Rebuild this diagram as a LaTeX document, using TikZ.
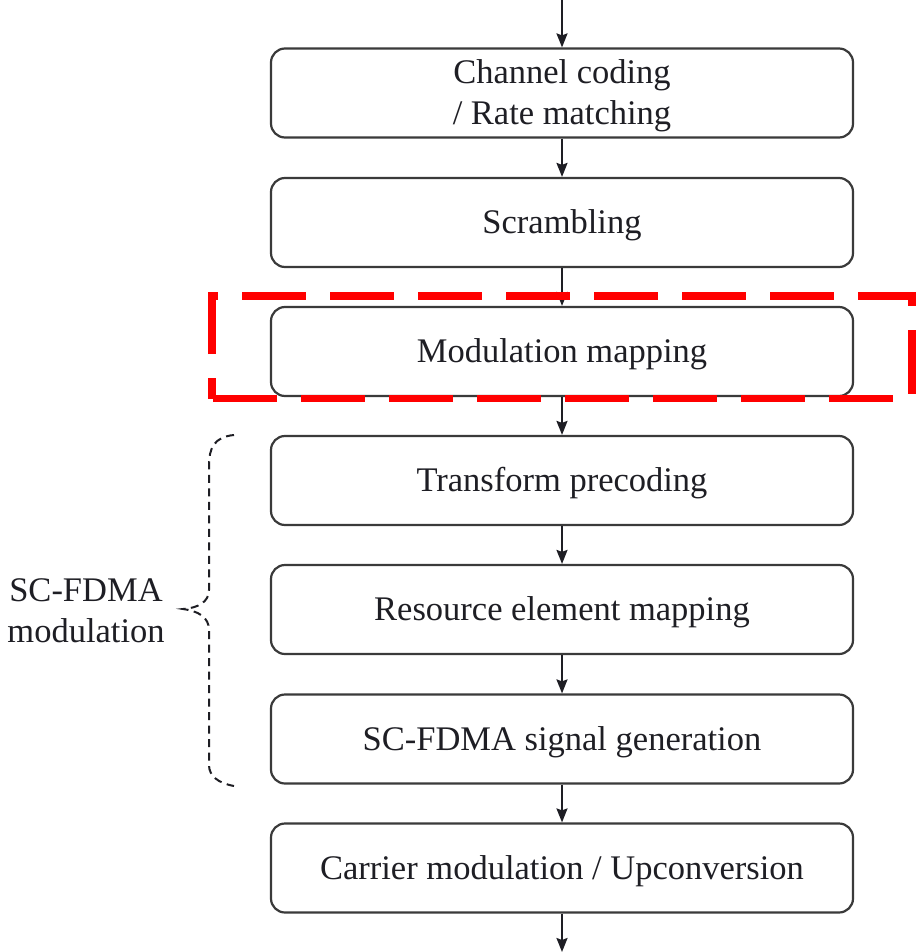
\documentclass[tikz,border=0pt]{standalone}
\usepackage{fontspec}
\setmainfont{Liberation Serif}
\usetikzlibrary{arrows.meta}
\definecolor{txt}{HTML}{1E1E24}
\definecolor{edge}{HTML}{3A3A3A}
\definecolor{hl}{HTML}{FF0000}
\begin{document}
\begin{tikzpicture}[x=1pt,y=-1pt,
  stage/.style={draw=edge,line width=2.2pt,rounded corners=14pt,minimum width=582pt,minimum height=89pt,
    align=center,text=txt,font=\fontsize{34.5}{41}\selectfont,inner sep=0pt,text height=27pt,text depth=5pt},
  flow/.style={draw=txt,line width=2pt,-{Stealth[length=14pt,width=11pt,inset=2pt]}},
  brace/.style={draw=txt,line width=2pt,dash pattern=on 8pt off 5.5pt},
  hlbox/.style={draw=hl,line width=7.5pt,dash pattern=on 64pt off 24pt,dash phase=43.5pt,line join=miter}]
\useasboundingbox (0,0) rectangle (915,952);
\fill[white] (0,0) rectangle (915,952);
\node[stage,text height=69pt,text depth=5pt] (b1) at (562,93) {Channel coding\\/ Rate matching};
\node[stage] (b2) at (562,222.5) {Scrambling};
\node[stage] (b3) at (562,351.5) {Modulation mapping};
\node[stage] (b4) at (562,480.5) {Transform precoding};
\node[stage] (b5) at (562,609.5) {Resource element mapping};
\node[stage] (b6) at (562,739) {SC-FDMA signal generation};
\node[stage] (b7) at (562,868) {Carrier modulation / Upconversion};
\coordinate (in) at (562,0);
\coordinate (out) at (562,952);
\draw[flow] (in) -- (b1.north);
\draw[flow] (b1) -- (b2);
\draw[flow] (b2) -- (b3);
\draw[flow] (b3) -- (b4);
\draw[flow] (b4) -- (b5);
\draw[flow] (b5) -- (b6);
\draw[flow] (b6) -- (b7);
\draw[flow] (b7.south) -- (out);
\draw[hlbox] (212,398.5) -- (212,296) -- (912,296) -- (912,398.5) -- cycle;
\draw[brace] (234,435) .. controls (214,437) and (209,448) .. (209,466) -- (209,590)
  .. controls (209,602) and (198,608) .. (183,609)
  .. controls (198,611) and (209,617) .. (209,630) -- (209,765)
  .. controls (209,776) and (218,783) .. (234,786);
\node[text=txt,font=\fontsize{34.5}{41}\selectfont,align=center,inner sep=0pt] (lbl) at (86,611) {SC-FDMA\\modulation};
\end{tikzpicture}
\end{document}
